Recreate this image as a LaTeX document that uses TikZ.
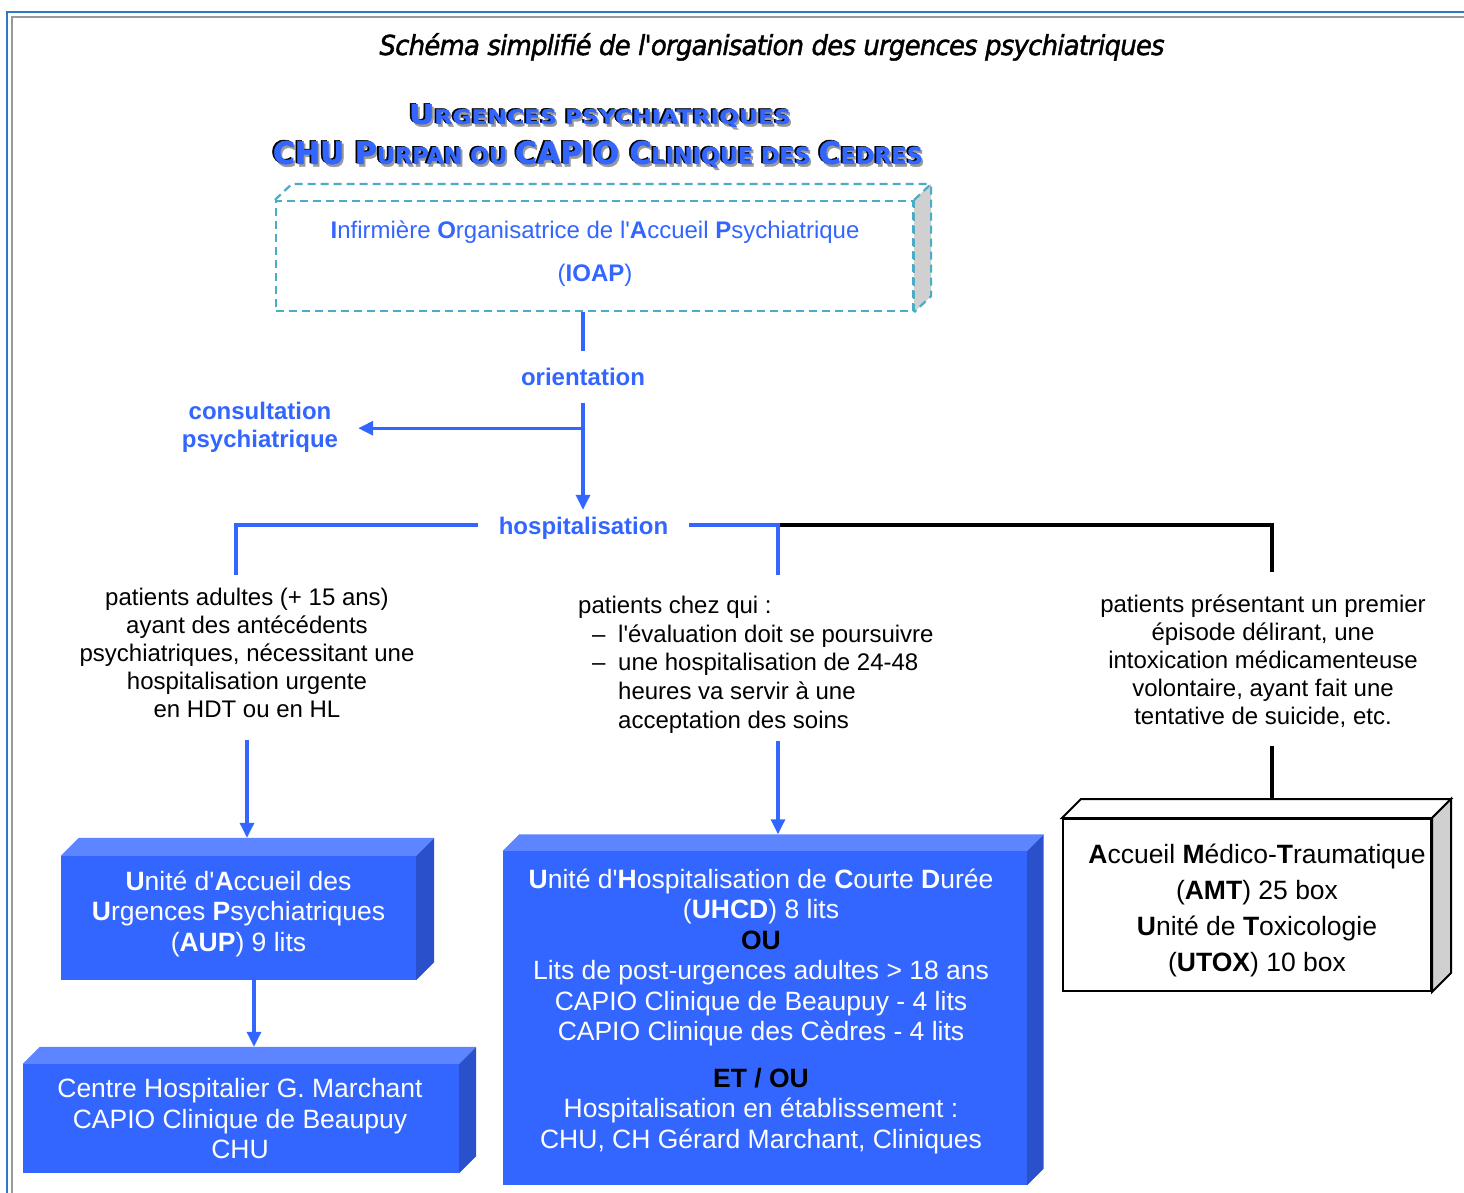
\documentclass[tikz,border=0pt]{standalone}
\usepackage{fontspec}
\usepackage{graphicx}
\setmainfont{Liberation Sans}[Ligatures=TeXOff]
\newfontface\hdrface{DejaVu Sans Bold}[FakeBold=1.5]
\newfontface\ttlface{DejaVu Sans Oblique}[FakeBold=1.6,LetterSpace=-3]
\usetikzlibrary{arrows.meta,calc}
\definecolor{cblue}{HTML}{3366FF}
\definecolor{ctop}{HTML}{5C85FF}
\definecolor{cside}{HTML}{2B50CC}
\definecolor{cteal}{HTML}{4BACC6}
\definecolor{cframe}{HTML}{2E78C8}
\definecolor{cgray}{HTML}{D0D0D0}
\newcommand\hdrA{\hdrface{\fontsize{27}{30}\selectfont U}{\fontsize{20}{30}\selectfont RGENCES PSYCHIATRIQUES}}
\newcommand\hdrB{\hdrface{\fontsize{31}{30}\selectfont CHU P}{\fontsize{23}{30}\selectfont URPAN OU }{\fontsize{31}{30}\selectfont CAPIO C}{\fontsize{23}{30}\selectfont LINIQUE DES }{\fontsize{31}{30}\selectfont C}{\fontsize{23}{30}\selectfont EDRES}}
\newcommand\shadowed[1]{\makebox[0pt][l]{\hspace*{3.5pt}\raisebox{-3.5pt}{\color{black!40}#1}}\makebox[0pt][l]{\color{black}#1}\hspace*{1.8pt}\raisebox{-0.9pt}{\color{cblue}#1}}
\newcommand\cubefaces[5]{%
  \path[#5,fill=#3] (#1.north west) -- ++(#2,-#2) -- ($(#1.north east)+(#2,-#2)$) -- (#1.north east) -- cycle;
  \path[#5,fill=#4] (#1.north east) -- ++(#2,-#2) -- ($(#1.south east)+(#2,-#2)$) -- (#1.south east) -- cycle;
}
\begin{document}
\begin{tikzpicture}[x=1pt,y=-1pt,
  bl/.style={draw=cblue,line width=3.2pt},
  blk/.style={draw=black,line width=3.2pt},
  arr/.style={bl,-{Triangle[length=15pt,width=14pt]}},
  lbl/.style={text=cblue,font=\bfseries\fontsize{24}{28}\selectfont,align=center,inner sep=0pt},
  body/.style={font=\fontsize{24}{28}\selectfont,align=center,inner sep=0pt},
  bluebox/.style={fill=cblue,draw=none,inner sep=0pt},
  wtxt/.style={text=white,font=\fontsize{26.5}{30.5}\selectfont,align=center,inner sep=0pt},
  ioapline/.style={draw=cteal,line width=2.2pt,dash pattern=on 8pt off 5pt},
]
\useasboundingbox (0,0) rectangle (1464,1192);
\fill[white] (0,0) rectangle (1464,1192);
% frame
\draw[cframe,line width=1.5pt] (7,1200) -- (7,12) -- (1470,12);
\draw[black!40,line width=2pt] (12,1200) -- (12,16.5) -- (1470,16.5);

% title
\node[anchor=base,inner sep=0pt] (title) at (772,55) {\resizebox{785pt}{\height}{\ttlface\fontsize{27.5}{30}\selectfont Schéma simplifié de l'organisation des urgences psychiatriques}};

% header with shadow
\node[anchor=base,inner sep=0pt] (h1) at (599,123) {\shadowed{\resizebox{382pt}{\height}{\hdrA}}};
\node[anchor=base,inner sep=0pt] (h2) at (597,163) {\shadowed{\resizebox{650pt}{\height}{\hdrB}}};

% IOAP box
\node[ioapline,minimum width=637pt,minimum height=110pt,inner sep=0pt] (ioap) at (594.5,256) {};
\draw[ioapline] (ioap.north west) -- ++(17,-16) -- ($(ioap.north east)+(17,-16)$);
\filldraw[ioapline,fill=cgray] (ioap.north east) -- ++(17,-16) -- ($(ioap.south east)+(17,-16)$) -- (ioap.south east);
\draw[ioapline] (ioap.north east) -- (ioap.south east);
\node[text=cblue,font=\fontsize{24}{43}\selectfont,align=center,inner sep=0pt] (ioapt) at (595,254)
  {\textbf{I}nfirmière \textbf{O}rganisatrice de l'\textbf{A}ccueil \textbf{P}sychiatrique\\(\textbf{IOAP})};

% orientation
\node[lbl,minimum height=52pt] (ori) at (583,377) {orientation};
\draw[bl] (ori |- ioap.south) -- (ori.north);
\node[lbl,minimum width=211pt,minimum height=30pt,text height=23pt,text depth=5pt] (hosp) at (583.5,525) {hospitalisation};
\draw[arr] (ori.south) -- (ori.south |- hosp.north);
\coordinate (br) at ($(ori.south)+(0,25)$);
\node[lbl,inner xsep=20pt] (cons) at (260,427) {consultation\\psychiatrique};
\draw[arr] (br) -- (br -| cons.east);

% branches
\coordinate (lt) at (236,575);
\coordinate (mj) at (778,525);
\coordinate (mt) at (778,575);
\coordinate (rt) at (1272,572);
\draw[blk] (mj) -| (rt);
\draw[bl] (hosp.west) -| (lt);
\draw[bl] (hosp.east) -- (mj) -- (mt);

% texts
\node[body,inner ysep=22pt] (ladult) at (247,653) {patients adultes (+ 15 ans)\\ayant des antécédents\\psychiatriques, nécessitant une\\hospitalisation urgente\\en HDT ou en HL};
\node[body,align=left,anchor=north west,inner xsep=0pt,inner ysep=8pt,font=\fontsize{24}{28.6}\selectfont] (mid) at (578,588) {patients chez qui :\\
\makebox[40pt][l]{\hspace*{14pt}–}l'évaluation doit se poursuivre\\
\makebox[40pt][l]{\hspace*{14pt}–}une hospitalisation de 24-48\\
\hspace*{40pt}heures va servir à une\\
\hspace*{40pt}acceptation des soins};
\node[body,inner ysep=18pt] (rtext) at (1263,661.5) {patients présentant un premier\\épisode délirant, une\\intoxication médicamenteuse\\volontaire, ayant fait une\\tentative de suicide, etc.};

% AUP
\node[bluebox,minimum width=355pt,minimum height=124pt] (aup) at (238.5,918) {};
\cubefaces{aup}{18}{ctop}{cside}{}
\node[wtxt] (aupt) at (238.5,913.5) {\textbf{U}nité d'\textbf{A}ccueil des\\\textbf{U}rgences \textbf{P}sychiatriques\\(\textbf{AUP}) 9 lits};
\coordinate (auptop) at ($(aup.north)+(0,-18)$);

% CHGM
\node[bluebox,minimum width=436pt,minimum height=109pt] (chgm) at (241,1118.5) {};
\cubefaces{chgm}{17}{ctop}{cside}{}
\node[wtxt] (chgmt) at (240,1119) {Centre Hospitalier G. Marchant\\CAPIO Clinique de Beaupuy\\CHU};
\coordinate (chgmtop) at ($(chgm.north)+(0,-17)$);

% UHCD
\node[bluebox,minimum width=524pt,minimum height=334pt] (uhcd) at (765,1018) {};
\cubefaces{uhcd}{16.5}{ctop}{cside}{}
\node[wtxt] (uhcdt) at (761,1011) {\textbf{U}nité d'\textbf{H}ospitalisation de \textbf{C}ourte \textbf{D}urée\\(\textbf{UHCD}) 8 lits\\\textcolor{black}{\textbf{OU}}\\Lits de post-urgences adultes > 18 ans\\CAPIO Clinique de Beaupuy - 4 lits\\CAPIO Clinique des Cèdres - 4 lits\\[16pt]\textcolor{black}{\textbf{ET / OU}}\\Hospitalisation en établissement :\\CHU, CH Gérard Marchant, Cliniques};
\coordinate (uhcdtop) at ($(uhcd.north)+(0,-16.5)$);

% AMT
\node[draw=black,line width=2pt,fill=white,minimum width=368pt,minimum height=172pt,inner sep=0pt] (amt) at (1247,905) {};
\cubefaces{amt}{19}{white}{cgray}{draw=black,line width=2pt,line join=miter}
\node[font=\fontsize{26.5}{36}\selectfont,align=center,inner sep=0pt] (amtt) at (1257,910) {\textbf{A}ccueil \textbf{M}édico-\textbf{T}raumatique\\(\textbf{AMT}) 25 box\\\textbf{U}nité de \textbf{T}oxicologie\\(\textbf{UTOX}) 10 box};
\coordinate (amttop) at ($(amt.north)+(0,-19)$);

% arrows to boxes
\draw[arr] (ladult.south) -- (ladult.south |- auptop);
\draw[arr] ([xshift=15.5pt]aup.south) -- ([xshift=15.5pt]aup.south |- chgmtop);
\draw[arr] (mid.south -| mt) -- (mt |- uhcdtop);
\draw[blk] (rtext.south -| rt) -- (rt |- amttop);
\end{tikzpicture}
\end{document}
